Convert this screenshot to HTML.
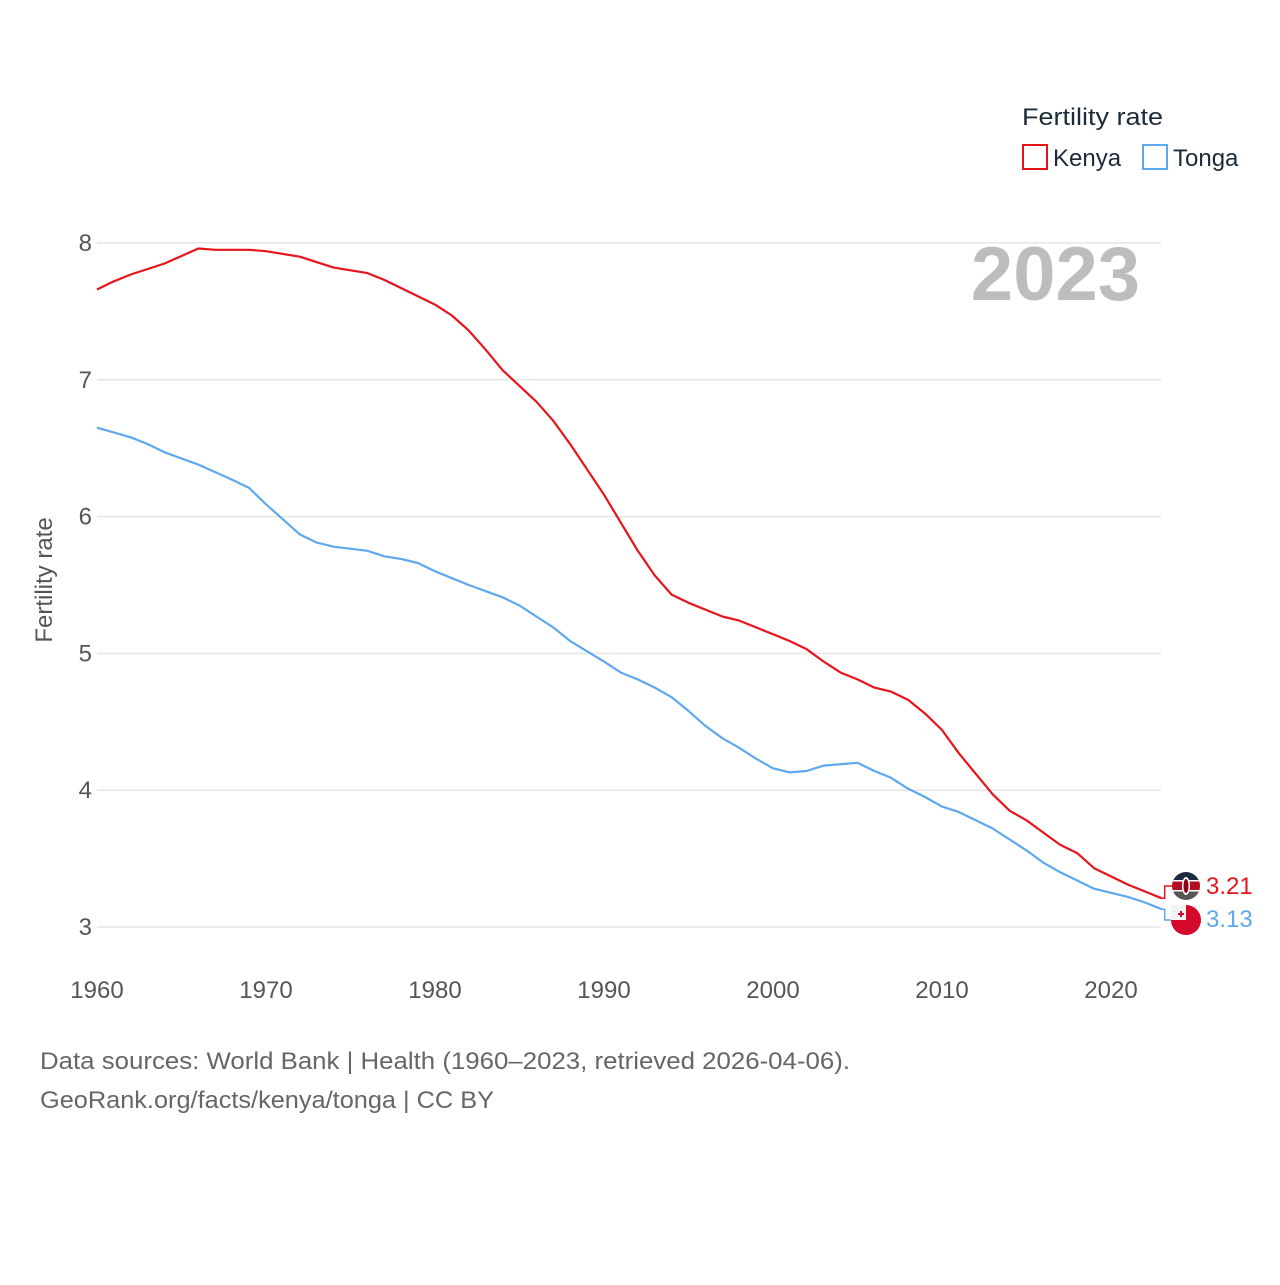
<!DOCTYPE html>
<html><head><meta charset="utf-8"><style>
body{margin:0;background:#fff;font-family:"Liberation Sans",sans-serif}
svg text{font-family:"Liberation Sans",sans-serif}
</style></head><body>
<svg width="1280" height="1280" xmlns="http://www.w3.org/2000/svg">
<g id="grid"></g>
<g id="yticks"></g>
<g id="xticks"></g>
<text x="52" y="580" transform="rotate(-90 52 580)" text-anchor="middle" font-size="24" fill="#555">Fertility rate</text>
<text x="1140" y="300" text-anchor="end" font-size="76" font-weight="bold" fill="#bdbdbd">2023</text>
<g>
<text x="1022" y="125" font-size="24" fill="#1c2b3a" textLength="141" lengthAdjust="spacingAndGlyphs">Fertility rate</text>
<g><rect x="1023" y="145" width="24" height="24" fill="none" stroke="#e8141b" stroke-width="2"/><text x="1053" y="166" font-size="24" fill="#1c2b3a">Kenya</text></g>
<g><rect x="1143" y="145" width="24" height="24" fill="none" stroke="#5ea8ef" stroke-width="2"/><text x="1173" y="166" font-size="24" fill="#1c2b3a">Tonga</text></g>
</g>
<g id="series"></g>
<g id="ends"></g>
<text x="40" y="1069" font-size="24" fill="#666" textLength="810" lengthAdjust="spacingAndGlyphs">Data sources: World Bank | Health (1960–2023, retrieved 2026-04-06).</text>
<text x="40" y="1108" font-size="24" fill="#666" textLength="454" lengthAdjust="spacingAndGlyphs">GeoRank.org/facts/kenya/tonga | CC BY</text>
</svg>
<script>
const kenyaYears=[1960,1961,1962,1964,1966,1967,1969,1970,1972,1974,1976,1977,1978,1980,1981,1982,1983,1984,1986,1987,1988,1990,1992,1993,1994,1995,1996,1997,1998,1999,2000,2001,2002,2003,2004,2005,2006,2007,2008,2009,2010,2011,2012,2013,2014,2015,2016,2017,2018,2019,2020,2021,2022,2023];
const kenyaValues=[7.66,7.72,7.77,7.85,7.96,7.95,7.95,7.94,7.90,7.82,7.78,7.73,7.67,7.55,7.47,7.36,7.22,7.07,6.84,6.70,6.53,6.16,5.75,5.57,5.43,5.37,5.32,5.27,5.24,5.19,5.14,5.09,5.03,4.94,4.86,4.81,4.75,4.72,4.66,4.56,4.44,4.27,4.12,3.97,3.85,3.78,3.69,3.60,3.54,3.43,3.37,3.31,3.26,3.21];
const tongaYears=[1960,1962,1963,1964,1966,1968,1969,1970,1971,1972,1973,1974,1976,1977,1978,1979,1980,1982,1984,1985,1986,1987,1988,1990,1991,1992,1993,1994,1995,1996,1997,1998,1999,2000,2001,2002,2003,2005,2006,2007,2008,2009,2010,2011,2012,2013,2014,2015,2016,2017,2018,2019,2020,2021,2022,2023];
const tongaValues=[6.65,6.58,6.53,6.47,6.38,6.27,6.21,6.09,5.98,5.87,5.81,5.78,5.75,5.71,5.69,5.66,5.60,5.50,5.41,5.35,5.27,5.19,5.09,4.94,4.86,4.81,4.75,4.68,4.58,4.47,4.38,4.31,4.23,4.16,4.13,4.14,4.18,4.20,4.14,4.09,4.01,3.95,3.88,3.84,3.78,3.72,3.64,3.56,3.47,3.40,3.34,3.28,3.25,3.22,3.18,3.13];
const yTickValues=[3,4,5,6,7,8];
const xTickValues=[1960,1970,1980,1990,2000,2010,2020];
const NS="http://www.w3.org/2000/svg";
const xS=y=>97+(y-1960)*(1014/60);
const yS=v=>927-(v-3)*136.8;
function mk(tag,attrs,parent){const e=document.createElementNS(NS,tag);for(const k in attrs)e.setAttribute(k,attrs[k]);parent.appendChild(e);return e;}
const grid=document.getElementById('grid'),yt=document.getElementById('yticks'),xt=document.getElementById('xticks');
yTickValues.forEach(v=>{
 const l=mk('line',{x1:97,x2:1161,y1:yS(v),y2:yS(v),stroke:'#e6e6e6','stroke-width':1.5},grid);
 
 
 const t=mk('text',{x:92,y:yS(v)+8,'text-anchor':'end','font-size':24,fill:'#555'},yt);
 t.textContent=v;
 
 
});
xTickValues.forEach(v=>{
 const t=mk('text',{x:xS(v),y:998,'text-anchor':'middle','font-size':24,fill:'#555'},xt);
 t.textContent=v;
 
 
});
const sg=document.getElementById('series');
function line(years,vals,color,name){
 const d=years.map((y,i)=>(i?'L':'M')+xS(y).toFixed(1)+','+yS(vals[i]).toFixed(1)).join(' ');
 const p=mk('path',{d:d,fill:'none',stroke:color,'stroke-width':2.2,'stroke-linejoin':'round'},sg);
 
 
}
line(kenyaYears,kenyaValues,'#e8141b','kenya-line');
line(tongaYears,tongaValues,'#5ea8ef','tonga-line');
const eg=document.getElementById('ends');
const kv=kenyaValues[kenyaValues.length-1],tv=tongaValues[tongaValues.length-1];
const ex=xS(2023);
mk('path',{d:`M${ex},${yS(kv)} L${ex+3},${yS(kv)} L${ex+3},886 L1172,886`,fill:'none',stroke:'#e8141b','stroke-width':1.5},eg);
mk('path',{d:`M${ex},${yS(tv)} L${ex+3},${yS(tv)} L${ex+3},920 L1172,920`,fill:'none',stroke:'#5ea8ef','stroke-width':1.5},eg);
const kf=mk('g',{},eg);


const cp=mk('clipPath',{id:'kc'},kf);
mk('circle',{cx:1186,cy:886,r:14},cp);
const kg=mk('g',{'clip-path':'url(#kc)'},kf);
mk('rect',{x:1172,y:872,width:28,height:9,fill:'#1b2a40'},kg);
mk('rect',{x:1172,y:881,width:28,height:10,fill:'#b01020'},kg);
mk('rect',{x:1172,y:891,width:28,height:9,fill:'#555'},kg);
mk('rect',{x:1172,y:880,width:28,height:1.5,fill:'#fff'},kg);
mk('rect',{x:1172,y:890,width:28,height:1.5,fill:'#fff'},kg);
mk('ellipse',{cx:1186,cy:886,rx:4,ry:9,fill:'#fff'},kg);
mk('ellipse',{cx:1186,cy:886,rx:2.5,ry:7,fill:'#8a0010'},kg);
const tf=mk('g',{},eg);


mk('circle',{cx:1186,cy:920,r:15,fill:'#d50a2b'},tf);
mk('path',{d:'M1171,905 L1186,905 L1186,920 L1171,920 Z',fill:'#f2f2f2'},tf);
mk('rect',{x:1178,y:913,width:6,height:2,fill:'#d50a2b'},tf);
mk('rect',{x:1180,y:911,width:2,height:6,fill:'#d50a2b'},tf);
const t1=mk('text',{x:1206,y:894,'font-size':24,fill:'#e8141b'},eg);
t1.textContent=kv.toFixed(2);


const t2=mk('text',{x:1206,y:927,'font-size':24,fill:'#5ea8ef'},eg);
t2.textContent=tv.toFixed(2);


</script>
</body></html>
